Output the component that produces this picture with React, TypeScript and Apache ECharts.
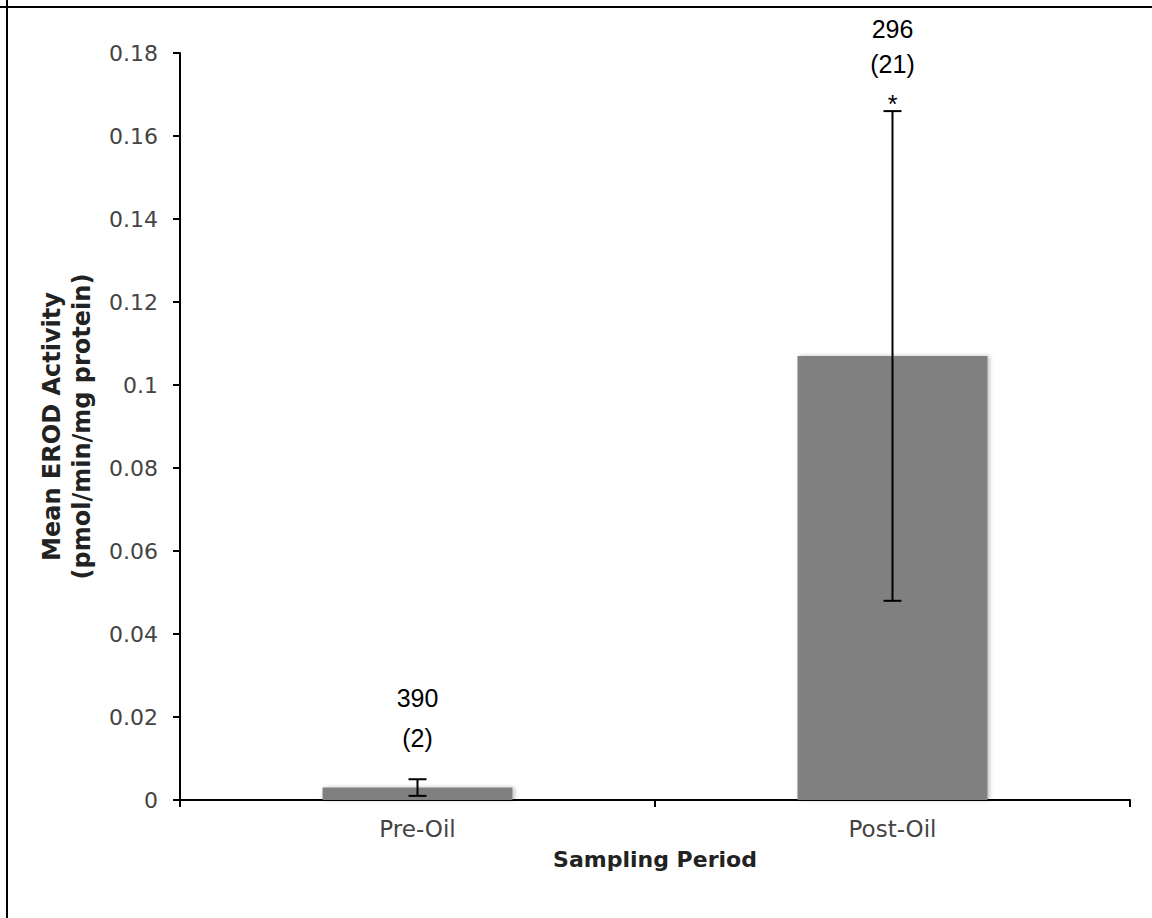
import React, { useEffect, useRef } from "react";
import * as echarts from "echarts";

const categories = ["Pre-Oil", "Post-Oil"];
const meanValues = [0.003, 0.107];
const errorValues = [0.002, 0.059];
const sampleSizes = ["390", "296"];
const subLabels = ["(2)", "(21)"];
const significance = ["", "*"];
const yTicks = { min: 0, max: 0.18, interval: 0.02 };

export default function App() {
  const ref = useRef<HTMLDivElement>(null);
  useEffect(() => {
    document.body.style.margin = "0";
    const chart = echarts.init(ref.current!, null, { renderer: "svg" });
    const errData = categories.map((_, i) => [i, meanValues[i], errorValues[i]]);
    chart.setOption({
      animation: false,
      backgroundColor: "#ffffff",
      grid: { left: 180, right: 22, top: 53, bottom: 118, containLabel: false },
      xAxis: {
        type: "category",
        data: categories,
        boundaryGap: true,
        name: "Sampling Period",
        nameLocation: "middle",
        nameGap: 48,
        nameTextStyle: { fontFamily: "DejaVu Sans", fontWeight: "bold", fontSize: 22, color: "#222" },
        axisLine: { lineStyle: { color: "#000", width: 2 } },
        axisTick: { show: true, length: 7, alignWithLabel: false, lineStyle: { color: "#000", width: 2 } },
        axisLabel: { fontFamily: "DejaVu Sans", fontSize: 23, color: "#444", margin: 17 },
        splitLine: { show: false },
      },
      yAxis: {
        type: "value",
        min: yTicks.min,
        max: yTicks.max,
        interval: yTicks.interval,
        name: "Mean EROD Activity\n(pmol/min/mg protein)",
        nameLocation: "middle",
        nameGap: 83,
        nameRotate: 90,
        nameTextStyle: { fontFamily: "DejaVu Sans", fontWeight: "bold", fontSize: 24, color: "#222", lineHeight: 30 },
        axisLine: { show: true, lineStyle: { color: "#000", width: 2 } },
        axisTick: { show: true, length: 7, lineStyle: { color: "#000", width: 2 } },
        axisLabel: { fontFamily: "DejaVu Sans", fontSize: 22, color: "#444", margin: 22 },
        splitLine: { show: false },
      },
      series: [
        {
          type: "bar",
          data: meanValues,
          barWidth: "40%",
          itemStyle: {
            color: "#808080",
            shadowColor: "rgba(0,0,0,0.25)",
            shadowBlur: 4,
            shadowOffsetX: 2,
          },
          z: 2,
        },
        {
          type: "custom",
          data: errData,
          z: 5,
          renderItem: (params: any, api: any) => {
            const i = api.value(0);
            const m = api.value(1);
            const e = api.value(2);
            const top = api.coord([i, m + e]);
            const bot = api.coord([i, m - e]);
            const cx = top[0];
            const cw = 9;
            const lineStyle = { stroke: "#000", lineWidth: 2 };
            const hasSig = significance[i] !== "";
            const txt = (t: string, y: number) => ({
              type: "text",
              style: {
                text: t,
                x: cx,
                y,
                align: "center",
                verticalAlign: "middle",
                fontFamily: "Liberation Sans",
                fontSize: 25,
                fill: "#000",
              },
            });
            const children: any[] = [
              { type: "line", shape: { x1: cx, y1: top[1], x2: cx, y2: bot[1] }, style: lineStyle },
              { type: "line", shape: { x1: cx - cw, y1: top[1], x2: cx + cw, y2: top[1] }, style: lineStyle },
              { type: "line", shape: { x1: cx - cw, y1: bot[1], x2: cx + cw, y2: bot[1] }, style: lineStyle },
            ];
            if (hasSig) {
              children.push(txt(significance[i], top[1] - 7));
              children.push(txt(subLabels[i], top[1] - 47));
              children.push(txt(sampleSizes[i], top[1] - 82));
            } else {
              children.push(txt(subLabels[i], top[1] - 41));
              children.push(txt(sampleSizes[i], top[1] - 81));
            }
            return { type: "group", children };
          },
        },
      ],
      graphic: [
        { type: "line", shape: { x1: 0, y1: 7, x2: 1152, y2: 7 }, style: { stroke: "#000", lineWidth: 2 } },
        { type: "line", shape: { x1: 7, y1: 0, x2: 7, y2: 918 }, style: { stroke: "#000", lineWidth: 2 } },
      ],
    });
    return () => chart.dispose();
  }, []);
  return <div ref={ref} style={{ width: 1152, height: 918, position: "absolute", left: 0, top: 0 }} />;
}
